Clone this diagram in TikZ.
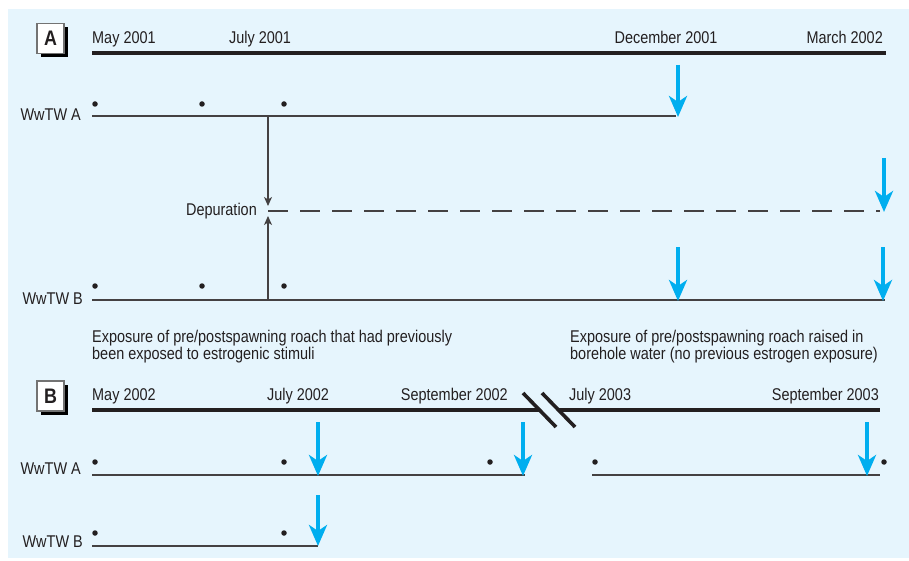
\documentclass[tikz,border=0pt]{standalone}
\usepackage{fontspec}
\setmainfont{Liberation Sans}[FakeStretch=0.85]
\usetikzlibrary{arrows.meta, positioning, shadows}
\definecolor{PanelBg}{HTML}{E6F5FD}
\definecolor{SampleBlue}{HTML}{00AEEF}
\definecolor{Ink}{HTML}{231F20}

\tikzset{
  timeline/.style={line width=3.6pt, Ink},
  exposure/.style={line width=1.2pt, Ink!85},
  sample/.style={-{Stealth[length=21pt,width=18pt,inset=6pt]}, line width=4pt, SampleBlue},
  depur/.style={line width=1.2pt, Ink!85, -{Stealth[length=9pt,width=8pt,inset=2.5pt]}},
  datept/.style={circle, fill=Ink, inner sep=0pt, minimum size=5.5pt},
  datelbl/.style={font=\fontsize{17}{15}\selectfont, text=Ink, inner sep=0pt},
  panelbox/.style={draw=gray!90!black, line width=1.2pt, fill=white, minimum width=27pt, minimum height=30pt,
    inner sep=0pt, font=\bfseries\fontsize{21}{21}\selectfont, text=Ink,
    drop shadow={shadow xshift=4pt, shadow yshift=-4pt, fill=black, opacity=1}}
}

\begin{document}
\begin{tikzpicture}[x=1pt, y=-1pt]
    \useasboundingbox (0,0) rectangle (909,561);
    \fill[PanelBg] (8,9) rectangle (909,558);

    % Panel A: 2001--2002
    \node[panelbox] (boxA) at (50.5,38.5) {A};
    \coordinate (tA0) at (92,53);
    \coordinate (tA1) at (886,53);
    \draw[timeline] (tA0) -- (tA1);
    \node[datelbl, anchor=base west] (may01) at (92,44) {May 2001};
    \node[datelbl, anchor=base] (jul01) at (260,44) {July 2001};
    \node[datelbl, anchor=base] (dec01) at (666,44) {December 2001};
    \node[datelbl, anchor=base east] (mar02) at (883,44) {March 2002};

    % WwTW A
    \node[datelbl, anchor=base east] (wwA) at (81,121) {WwTW A};
    \coordinate (eA0) at (92,116);
    \coordinate (eA1) at (676,116);
    \draw[exposure] (eA0) -- (eA1);
    \foreach \x [count=\i] in {95,202,284}
        \node[datept] (pA\i) at (\x,104) {};

    % depuration
    \node[datelbl, anchor=base east] (depur) at (257,215) {Depuration};
    \coordinate (dp0) at (268,211);
    \coordinate (dp1) at (880,211);
    \coordinate (dpA) at (268,116);
    \coordinate (dpB) at (268,300);
    \draw[exposure, dash pattern=on 20pt off 12pt] (dp0) -- (dp1);
    \draw[depur] (dpA) -- ([yshift=5pt]dp0);
    \draw[depur] (dpB) -- ([yshift=-5pt]dp0);

    % WwTW B
    \node[datelbl, anchor=base east] (wwB) at (83,304) {WwTW B};
    \coordinate (eB0) at (92,300);
    \coordinate (eB1) at (885,300);
    \draw[exposure] (eB0) -- (eB1);
    \foreach \x [count=\i] in {95,202,284}
        \node[datept] (pB\i) at (\x,286) {};

    % sampling points
    \coordinate (sA1) at (678,65);
    \coordinate (sA2) at (884,158);
    \coordinate (sA3) at (678,247);
    \coordinate (sA4) at (883,247);
    \draw[sample] (sA1) -- (678,117);
    \draw[sample] (sA2) -- (884,212);
    \draw[sample] (sA3) -- (678,301);
    \draw[sample] (sA4) -- (883,301);

    % captions
    \node[datelbl, anchor=north west, align=left] (capL) at (92,330)
        {Exposure of pre/postspawning roach that had previously\\been exposed to estrogenic stimuli};
    \node[datelbl, anchor=north west, align=left] (capR) at (570,330)
        {Exposure of pre/postspawning roach raised in\\borehole water (no previous estrogen exposure)};

    % Panel B: 2002--2003
    \node[panelbox] (boxB) at (50.5,396) {B};
    \coordinate (tB0) at (92,410);
    \coordinate (tB1) at (539,410);
    \coordinate (tB2) at (558,410);
    \coordinate (tB3) at (880,410);
    \draw[timeline] (tB0) -- (tB1);
    \draw[timeline] (tB2) -- (tB3);
    \draw[line width=3.6pt, Ink] (523,393) -- (556,427);
    \draw[line width=3.6pt, Ink] (542,393) -- (575,427);
    \node[datelbl, anchor=base west] (may02) at (92,400) {May 2002};
    \node[datelbl, anchor=base] (jul02) at (298,400) {July 2002};
    \node[datelbl, anchor=base east] (sep02) at (508,400) {September 2002};
    \node[datelbl, anchor=base west] (jul03) at (569,400) {July 2003};
    \node[datelbl, anchor=base east] (sep03) at (879,400) {September 2003};

    % WwTW A
    \node[datelbl, anchor=base east] (wwA2) at (81,474) {WwTW A};
    \coordinate (fA0) at (92,475);
    \coordinate (fA1) at (525,475);
    \coordinate (fA2) at (592,475);
    \coordinate (fA3) at (880,475);
    \draw[exposure] (fA0) -- (fA1);
    \draw[exposure] (fA2) -- (fA3);
    \foreach \x [count=\i] in {95,284,490,595,884}
        \node[datept] (qA\i) at (\x,462) {};

    % WwTW B
    \node[datelbl, anchor=base east] (wwB2) at (83,547) {WwTW B};
    \coordinate (fB0) at (92,546);
    \coordinate (fB1) at (318,546);
    \draw[exposure] (fB0) -- (fB1);
    \foreach \x [count=\i] in {95,284}
        \node[datept] (qB\i) at (\x,533) {};

    % sampling points
    \coordinate (sB1) at (318,422);
    \coordinate (sB2) at (523,422);
    \coordinate (sB3) at (867,422);
    \coordinate (sB4) at (318,495);
    \draw[sample] (sB1) -- (318,476);
    \draw[sample] (sB2) -- (523,476);
    \draw[sample] (sB3) -- (867,476);
    \draw[sample] (sB4) -- (fB1);
\end{tikzpicture}
\end{document}
